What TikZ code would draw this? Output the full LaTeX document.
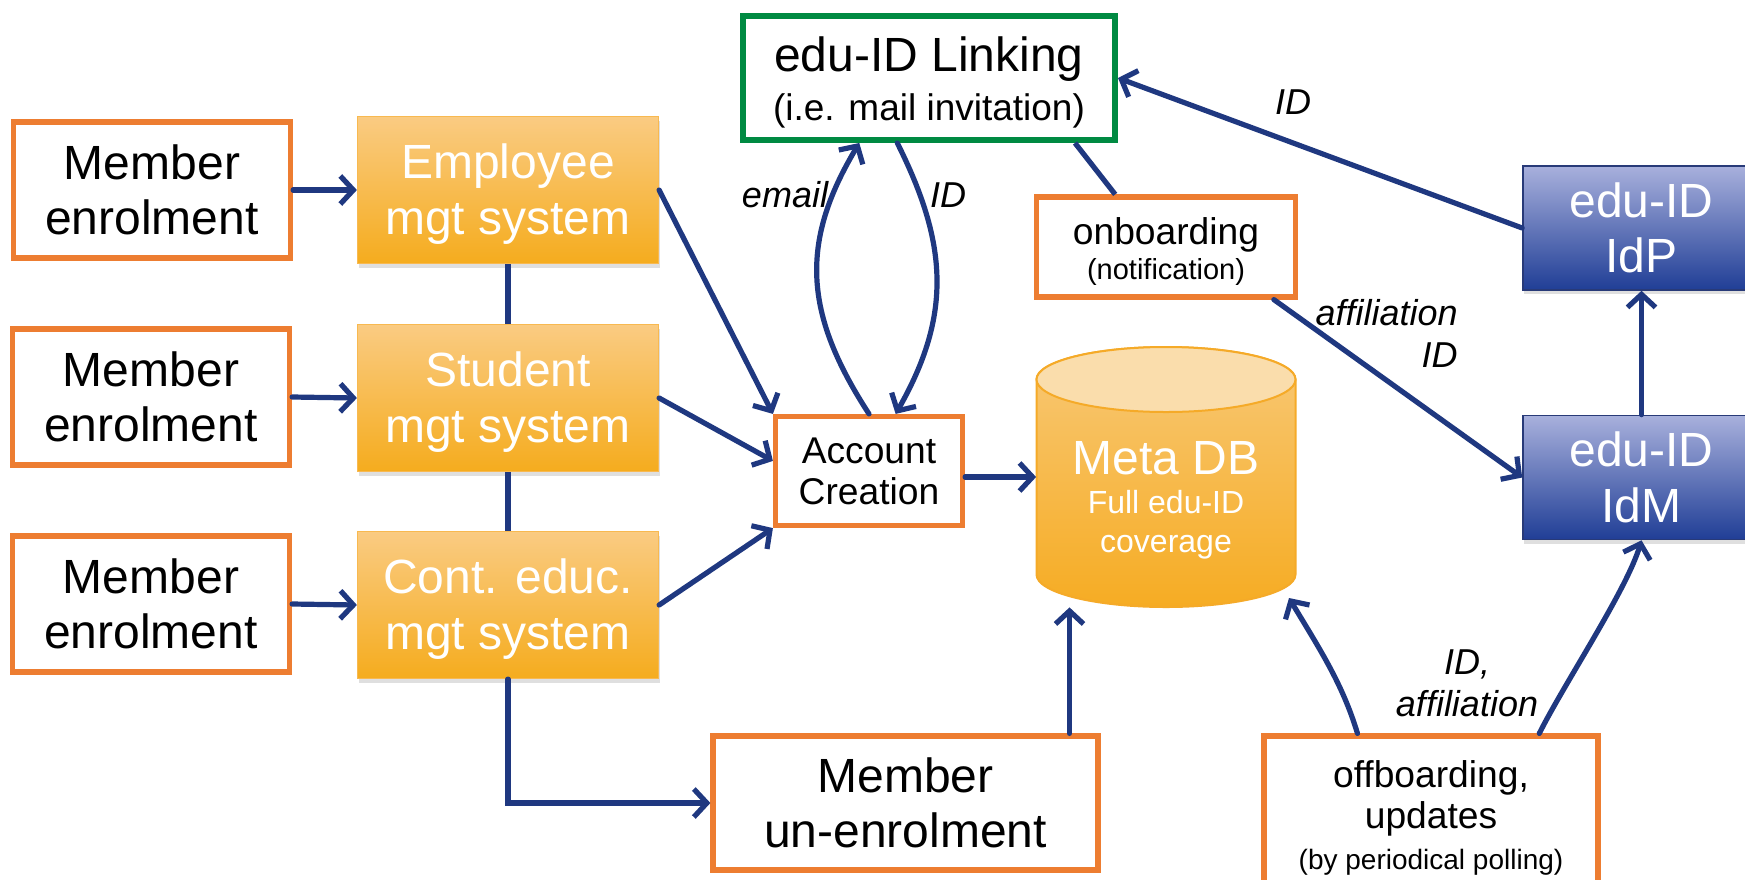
\documentclass[tikz,border=0pt]{standalone}
\usepackage{fontspec}
\setmainfont{Liberation Sans}
\usetikzlibrary{arrows.meta,shadows,calc}

\definecolor{flowblue}{RGB}{31,56,128}
\definecolor{boxorange}{RGB}{237,125,49}
\definecolor{linkgreen}{RGB}{0,138,66}
\definecolor{systop}{RGB}{250,203,130}
\definecolor{sysbot}{RGB}{245,172,30}
\definecolor{sysedge}{RGB}{248,185,80}
\definecolor{idtop}{RGB}{168,176,220}
\definecolor{idbot}{RGB}{32,62,150}
\definecolor{idedge}{RGB}{40,58,120}
\definecolor{dbtop}{RGB}{248,200,118}
\definecolor{dbbot}{RGB}{246,172,35}
\definecolor{dbcap}{RGB}{250,221,172}
\definecolor{dbedge}{RGB}{245,170,40}

\tikzset{
  enrolbox/.style={draw=boxorange, line width=2.6pt, fill=white, inner sep=0pt,
    minimum width=138.5pt, minimum height=68pt, align=center,
    font=\fontsize{24}{27.8}\selectfont},
  sysbox/.style={draw=sysedge, line width=0.6pt, top color=systop, bottom color=sysbot,
    text=white, inner sep=0pt, minimum width=150.5pt, minimum height=73.5pt, align=center,
    font=\fontsize{24}{27.8}\selectfont,
    drop shadow={opacity=0.25, shadow xshift=0.6pt, shadow yshift=-2.2pt}},
  smallbox/.style={draw=boxorange, line width=2.6pt, fill=white, inner sep=0pt, align=center,
    font=\fontsize{18.6}{20.5}\selectfont},
  idbox/.style={draw=idedge, line width=0.8pt, top color=idtop, bottom color=idbot,
    text=white, inner sep=0pt, minimum width=118.5pt, minimum height=62pt, align=center,
    font=\fontsize{24}{27.8}\selectfont,
    drop shadow={opacity=0.25, shadow xshift=0.6pt, shadow yshift=-2.2pt}},
  flow/.style={draw=flowblue, line width=2.6pt, line cap=round,
    -{Straight Barb[length=6.5pt,width=14pt]}},
  plain/.style={draw=flowblue, line width=2.6pt},
  tag/.style={inner sep=0pt, align=center, font=\fontsize{18}{21}\selectfont\itshape},
}
\newcommand{\upstrut}{\rule{0pt}{21.5pt}}

\begin{document}
\begin{tikzpicture}[x=0.5pt,y=0.5pt,yscale=-1,xscale=1]
\useasboundingbox[fill=white] (0,0) rectangle (1745,879);

% enrolment boxes
\node[enrolbox] (enrolA) at (152,190) {Member\\enrolment};
\node[enrolbox] (enrolB) at (151,397) {Member\\enrolment};
\node[enrolbox] (enrolC) at (151,604) {Member\\enrolment};

% management systems
\node[sysbox] (empsys) at (508,190) {\upstrut Employee\\mgt system};
\node[sysbox] (studsys) at (508,398) {\upstrut Student\\mgt system};
\node[sysbox] (contsys) at (508,605) {\upstrut Cont. educ.\\mgt system};

% account creation and linking
\node[smallbox, minimum width=93.5pt, minimum height=54.5pt] (acct) at (869,471) {Account\\Creation};
\node[smallbox, draw=linkgreen, line width=3pt, minimum width=186pt, minimum height=62pt,
  font=\fontsize{18.5}{24.5}\selectfont] (link) at (929,78)
  {{\fontsize{24}{24}\selectfont\rule{0pt}{22pt}edu-ID Linking}\\(i.e. mail invitation)};
\node[smallbox, minimum width=129.5pt, minimum height=50pt,
  font=\fontsize{18.6}{17.5}\selectfont] (onboard) at (1166,247)
  {\rule{0pt}{18pt}onboarding\\{\fontsize{14.5}{17.5}\selectfont (notification)}};

% Meta DB cylinder
\shade[top color=dbtop, bottom color=dbbot, draw=dbedge, line width=1pt]
  (1036.5,379.5) -- (1036.5,574.5) arc[start angle=180, end angle=0, x radius=129.5, y radius=32.5]
  -- (1295.5,379.5) arc[start angle=0, end angle=-180, x radius=129.5, y radius=32.5] -- cycle;
\filldraw[fill=dbcap, draw=dbedge, line width=1pt] (1166,379.5) ellipse [x radius=129.5, y radius=32.5];
\node[inner sep=0pt, minimum width=129.5pt, minimum height=130pt] (metadb) at (1166,477) {};
\node[inner sep=0pt, align=center, text=white, font=\fontsize{16}{19.5}\selectfont] (dbtext) at (1166,500)
  {{\fontsize{24}{24}\selectfont Meta DB}\\Full edu-ID\\coverage};

% edu-ID services
\node[idbox] (idp) at (1641.5,228) {edu-ID\\IdP};
\node[idbox] (idm) at (1641.5,477.5) {edu-ID\\IdM};

% un-enrolment and offboarding
\node[enrolbox, minimum width=192.5pt, minimum height=67pt] (unenrol) at (905.5,803) {Member\\un-enrolment};
\node[smallbox, minimum width=167pt, minimum height=82pt, font=\fontsize{18.6}{20.5}\selectfont] (offboard) at (1431,818)
  {offboarding,\\updates\\{\fontsize{14}{18.5}\selectfont (by periodical polling)}};

% connectors
\draw[flow] (enrolA.east) -- (empsys.west);
\draw[flow] (enrolB.east) -- (studsys.west);
\draw[flow] (enrolC.east) -- (contsys.west);
\draw[plain] (empsys.south) -- (studsys.north);
\draw[plain] (studsys.south) -- (contsys.north);
\draw[flow] (contsys.south) |- (unenrol.west);
\draw[flow] (empsys.east) -- (acct.north west);
\draw[flow] (studsys.east) -- (acct.174);
\draw[flow] (contsys.east) -- (acct.south west);
\draw[flow] (acct.north) .. controls +(-65,-100) and +(-60,100) .. (link.-137);
\draw[flow] (link.-116) .. controls +(50,100) and +(57,-100) .. (acct.65);
\draw[flow] (acct.east |- metadb.west) -- (metadb.west);
\draw[plain] (link.-24) -- (onboard.134);
\draw[flow] (onboard.-26) -- (idm.west);
\draw[flow] (idp.west) -- (link.east);
\draw[flow] (idm.north) -- (idp.south);
\draw[flow] (unenrol.23.5) -- (unenrol.23.5 |- metadb.south);
\draw[flow] (offboard.131) .. controls +(-15,-50) and +(30,50) .. ($(metadb.center)+(123,121)$);
\draw[flow] (offboard.38.5) .. controls +(25,-50) and +(-15,50) .. (idm.south);

% labels
\node[tag] (emailtag) at (785,195) {email};
\node[tag] (idtagA) at (948,195) {ID};
\node[tag] (idtagB) at (1293,102) {ID};
\node[tag, align=right, anchor=east] (affiltag) at (1458,333) {affiliation\\ID};
\node[tag] (idaffiltag) at (1467,683) {ID,\\affiliation};
\end{tikzpicture}
\end{document}
